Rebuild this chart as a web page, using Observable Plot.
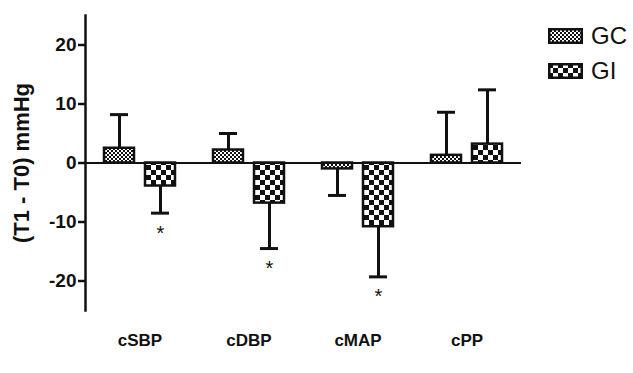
<!DOCTYPE html>
<html>
<head>
<meta charset="utf-8">
<script src="https://cdn.jsdelivr.net/npm/d3@7"></script>
<script src="https://cdn.jsdelivr.net/npm/@observablehq/plot@0.6"></script>
<style>
  html, body { margin: 0; padding: 0; background: #fff; }
  #wrap { position: relative; width: 633px; height: 373px; font-family: "Liberation Sans", Arial, sans-serif; }
  #wrap svg g[aria-label="y-axis tick label"] { font-size: 19px; font-weight: bold; }
  #wrap svg g[aria-label="y-axis label"] { font-size: 22px; font-weight: bold; }
  #wrap svg g[aria-label="fx-axis tick label"] { font-size: 17px; font-weight: bold; }
  #legend { position: absolute; left: 548px; top: 28px; }
  .row { display: flex; align-items: center; height: 16px; margin-bottom: 19px; }
  .row svg { display: block; }
  .row span { margin-left: 8px; font-size: 24px; color: #111; }
</style>
</head>
<body>
<div id="wrap"></div>
<script>
// ---- data ----
const categories = ["cSBP", "cDBP", "cMAP", "cPP"];
const groups = ["GC", "GI"];
const gcMean = [2.5, 2.2, -1.0, 1.3];
const gcSD   = [5.7, 2.8, 4.5, 7.3];
const giMean = [-3.9, -6.8, -10.8, 3.2];
const giSD   = [4.6, 7.7, 8.5, 9.2];
const giSignificant = [true, true, true, false];
const yTicks = [-20, -10, 0, 10, 20];
const yLabel = "(T1 - T0) mmHg";

const rows = [];
categories.forEach((c, i) => {
  rows.push({cat: c, group: "GC", mean: gcMean[i], sd: gcSD[i], sig: false});
  rows.push({cat: c, group: "GI", mean: giMean[i], sd: giSD[i], sig: giSignificant[i]});
});
rows.forEach(r => { r.end = r.mean >= 0 ? r.mean + r.sd : r.mean - r.sd; });

const font = "Liberation Sans, Arial, sans-serif";

const chart = Plot.plot({
  width: 633,
  height: 373,
  marginLeft: 84,
  marginRight: 112,
  marginTop: 15,
  marginBottom: 63,
  style: {fontFamily: font, color: "#111", background: "#fff"},
  fx: {domain: categories, padding: 0},
  x: {domain: groups, paddingInner: 0.26, paddingOuter: 0.43, axis: null},
  y: {domain: [-25, 25]},
  color: {domain: groups, range: ["url(#pat-gc)", "url(#pat-gi)"]},
  marks: [
    Plot.frame({anchor: "left", facetAnchor: "left", stroke: "#111", strokeWidth: 2.5}),
    Plot.axisY({ticks: yTicks, tickFormat: d => String(d), tickSize: 7, tickPadding: 2, strokeWidth: 2.5,
      label: yLabel, labelAnchor: "center", labelOffset: 72, labelArrow: "none"}),
    Plot.axisFx({anchor: "bottom", tickSize: 0, tickPadding: 23, label: null}),
    Plot.ruleX(rows, {fx: "cat", x: "group", y1: "mean", y2: "end", stroke: "#111", strokeWidth: 3}),
    Plot.tickY(rows, {fx: "cat", x: "group", y: "end", stroke: "#111", strokeWidth: 3, insetLeft: 6, insetRight: 6}),
    Plot.barY(rows, {fx: "cat", x: "group", y: "mean", fill: "group", stroke: "#111", strokeWidth: 2.5}),
    Plot.ruleY([0], {stroke: "#111", strokeWidth: 2}),
    Plot.ruleX([0], {y1: d => d, y2: d => d, insetBottom: -8, stroke: "#111", strokeWidth: 2}),
    Plot.text(rows.filter(r => r.sig), {fx: "cat", x: "group", y: "end", text: () => "*", dy: 20, fontSize: 20, fill: "#111"})
  ]
});

const defs = `
<defs>
  <pattern id="pat-gc" patternUnits="userSpaceOnUse" width="4" height="4">
    <rect width="4" height="4" fill="#fff"/>
    <rect x="0" y="0" width="2" height="2" fill="#111"/>
    <rect x="2" y="2" width="2" height="2" fill="#111"/>
  </pattern>
  <pattern id="pat-gi" patternUnits="userSpaceOnUse" width="10" height="10">
    <rect width="10" height="10" fill="#fff"/>
    <rect x="0" y="0" width="5" height="5" fill="#111"/>
    <rect x="5" y="5" width="5" height="5" fill="#111"/>
  </pattern>
</defs>`;
chart.insertAdjacentHTML("afterbegin", defs);

const wrap = document.getElementById("wrap");
wrap.appendChild(chart);

const legend = document.createElement("div");
legend.id = "legend";
legend.innerHTML = groups.map((g, i) => `
  <div class="row">
    <svg width="35" height="16"><rect x="1.25" y="1.25" width="32.5" height="13.5" fill="url(#pat-${g.toLowerCase()})" stroke="#111" stroke-width="2.5"/></svg>
    <span>${g}</span>
  </div>`).join("");
wrap.appendChild(legend);
</script>
</body>
</html>
